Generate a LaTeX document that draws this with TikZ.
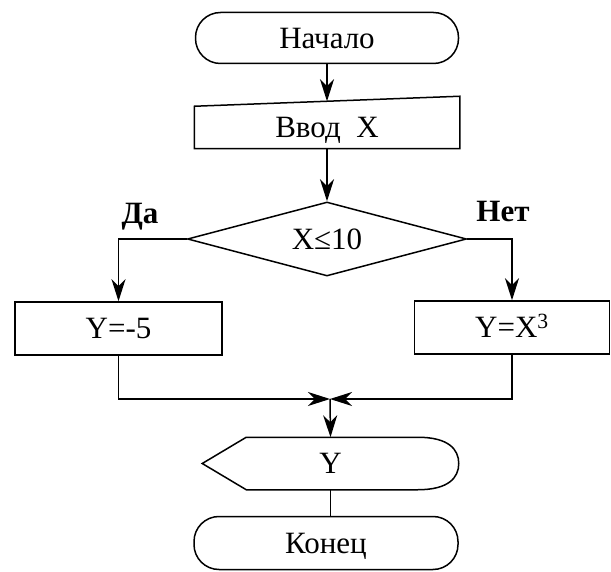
\documentclass[tikz,border=0pt]{standalone}
\usepackage{fontspec}
\setmainfont{Liberation Serif}
\usetikzlibrary{arrows.meta,shapes.geometric}

\begin{document}
\begin{tikzpicture}[x=1pt, y=-1pt, line width=1.5pt,
  every node/.style={font=\fontsize{31}{37}\selectfont, text height=20.5pt, text depth=0pt, inner sep=0pt},
  flow/.style={-{Stealth[length=22pt,width=14pt,inset=7pt]}},
  terminal/.style={draw, rectangle, rounded corners=25pt, minimum width=263pt, minimum height=51pt},
  procbox/.style={draw, rectangle, minimum height=53pt},
  branchlabel/.style={font=\fontsize{31}{37}\selectfont\bfseries}
]
\useasboundingbox (0,0) rectangle (611,572);

% start terminal
\node[terminal] (start) at (327,38) {Начало};

% manual input block (sloped top edge)
\node[minimum width=264pt, minimum height=41pt] (input) at (327,127.5) {Ввод\ \ X};
\draw (input.north west) -- ([yshift=10pt]input.north east) -- (input.south east) -- (input.south west) -- cycle;
\coordinate (inputtop) at ([yshift=5pt]input.north);

% decision
\node[draw, diamond, aspect=3.77, minimum width=279pt, minimum height=74pt] (cond) at (327,239) {X≤10};

% branch labels
\node[branchlabel] (yes) at (140,213) {Да};
\node[branchlabel] (no) at (503,211) {Нет};

% process blocks
\node[procbox, minimum width=207pt] (neg) at (118.5,328.5) {Y=-5};
\node[procbox, minimum width=195pt] (cube) at (512,327.5) {Y=X\textsuperscript{3}};

% join point
\coordinate (join) at (330,399);

% display block
\node[minimum width=255pt, minimum height=51pt] (out) at (330.5,463.5) {Y};
\draw (out.west) -- ([xshift=44pt]out.north west) -- ([xshift=-41pt]out.north east)
  .. controls ([xshift=-10pt]out.north east) and ([yshift=14pt]out.east) .. (out.east)
  .. controls ([yshift=-14pt]out.east) and ([xshift=-10pt]out.south east) .. ([xshift=-41pt]out.south east)
  -- ([xshift=44pt]out.south west) -- cycle;

% end terminal
\node[terminal, minimum width=264pt, minimum height=53pt] (stop) at (326,543) {Конец};

% connectors
\draw[flow] (start.south) -- (inputtop);
\draw[flow] (input.south) -- (cond.north);
\draw[flow] (cond.west) -| (neg.north);
\draw[flow] (cond.east) -| (cube.north);
\draw[flow] (neg.south) |- (join);
\draw[flow] (cube.south) |- (join);
\draw[flow] (join) -- (out.north);
\draw (out.south) -- (out.south |- stop.north);
\end{tikzpicture}
\end{document}
